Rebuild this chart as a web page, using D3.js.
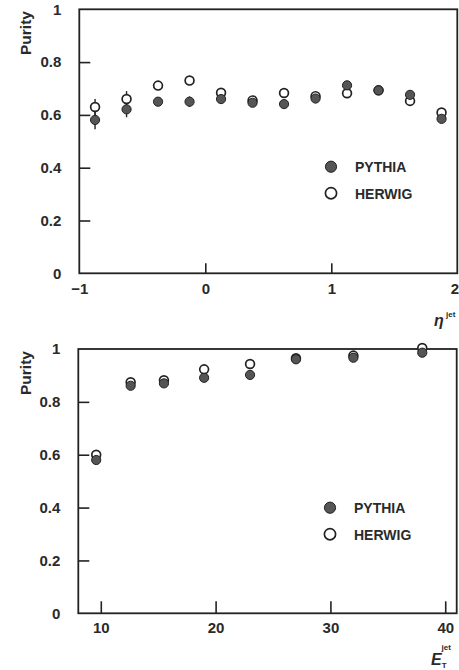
<!DOCTYPE html>
<html>
<head>
<meta charset="utf-8">
<script src="https://cdn.jsdelivr.net/npm/d3@7"></script>
<style>
  html, body { margin: 0; padding: 0; background: #fff; }
  svg { display: block; }
  text { font-family: "Liberation Sans", Arial, sans-serif; fill: #2a2a2a; }
</style>
</head>
<body>
<svg id="chart" width="459" height="670"></svg>
<script>
// Jet purity vs pseudorapidity (top) and transverse energy (bottom)
const etaBins      = [-0.875, -0.625, -0.375, -0.125, 0.125, 0.375, 0.625, 0.875, 1.125, 1.375, 1.625, 1.875];
const etaPythia    = [0.581, 0.621, 0.650, 0.650, 0.660, 0.646, 0.641, 0.662, 0.712, 0.693, 0.676, 0.585];
const etaPythiaErr = [0.035, 0.030, 0.015, 0.020, 0.012, 0.012, 0.012, 0.012, 0.012, 0.012, 0.012, 0.012];
const etaHerwig    = [0.630, 0.660, 0.711, 0.730, 0.684, 0.655, 0.683, 0.671, 0.682, 0.693, 0.653, 0.609];
const etaHerwigErr = [0.030, 0.030, 0.012, 0.012, 0.012, 0.012, 0.012, 0.012, 0.012, 0.012, 0.012, 0.012];

const etBins       = [9.6, 12.6, 15.5, 19.0, 23.0, 27.0, 32.0, 38.0];
const etPythia     = [0.580, 0.861, 0.870, 0.891, 0.902, 0.961, 0.967, 0.986];
const etPythiaErr  = [0.010, 0.010, 0.010, 0.010, 0.010, 0.008, 0.008, 0.008];
const etHerwig     = [0.600, 0.874, 0.882, 0.923, 0.943, 0.965, 0.975, 1.004];
const etHerwigErr  = [0.010, 0.010, 0.010, 0.010, 0.010, 0.008, 0.008, 0.008];

const purityTicks  = [0, 0.2, 0.4, 0.6, 0.8, 1];
const etaTicks     = [-1, 0, 1, 2];
const etTicks      = [10, 20, 30, 40];
const seriesNames  = ["PYTHIA", "HERWIG"];

const svg = d3.select("#chart");
const ink = "#222";
const fillGrey = "#555";

function panel(cfg) {
  const { left, right, top, bottom } = cfg.box;
  const x = d3.scaleLinear().domain(cfg.xDomain).range([left, right]);
  const y = d3.scaleLinear().domain([0, 1]).range([bottom, top]);
  const g = svg.append("g");

  // y axis: ticks point inward, labels outside
  const yAxis = g.append("g")
    .attr("transform", `translate(${left},0)`)
    .call(d3.axisLeft(y).tickValues(purityTicks).tickFormat(d3.format("~g"))
      .tickSizeInner(-11).tickSizeOuter(0).tickPadding(18));
  yAxis.select(".domain").remove();
  yAxis.selectAll(".tick line")
    .attr("stroke", ink).attr("stroke-width", 1.6)
    .attr("display", d => (d === 0 || d === 1) ? "none" : null);
  yAxis.selectAll(".tick text")
    .attr("font-size", 15).attr("font-weight", "bold")
    .attr("fill", "#2a2a2a").attr("font-family", "Liberation Sans, Arial, sans-serif");

  // x axis: ticks point inward
  const xAxis = g.append("g")
    .attr("transform", `translate(0,${bottom})`)
    .call(d3.axisBottom(x).tickValues(cfg.xTicks).tickFormat(d3.format("~g"))
      .tickSizeInner(-cfg.xTickLen).tickSizeOuter(0).tickPadding(cfg.xPad));
  xAxis.select(".domain").remove();
  xAxis.selectAll(".tick line")
    .attr("stroke", ink).attr("stroke-width", 1.6)
    .attr("display", d => cfg.hideEdgeTicks && (d === cfg.xDomain[0] || d === cfg.xDomain[1]) ? "none" : null);
  xAxis.selectAll(".tick text")
    .attr("font-size", 15).attr("font-weight", "bold")
    .attr("fill", "#2a2a2a").attr("font-family", "Liberation Sans, Arial, sans-serif")
    // keep the last label inside the page edge
    .attr("dx", d => (d === cfg.xDomain[1] ? -3 : 0));

  // frame
  g.append("rect")
    .attr("x", left).attr("y", top)
    .attr("width", right - left).attr("height", bottom - top)
    .attr("fill", "none").attr("stroke", ink).attr("stroke-width", 1.8);

  // y title
  g.append("text")
    .attr("transform", `translate(${31},${cfg.yTitleY}) rotate(-90)`)
    .attr("text-anchor", "middle")
    .attr("font-size", 15.5).attr("font-weight", "bold")
    .text("Purity");

  // error bars
  const errs = g.append("g").attr("stroke", ink).attr("stroke-width", 1.4);
  const addErr = (xs, ys, es) => errs.selectAll(null).data(xs).enter().append("line")
    .attr("x1", d => x(d)).attr("x2", d => x(d))
    .attr("y1", (d, i) => y(ys[i] - es[i])).attr("y2", (d, i) => y(ys[i] + es[i]));
  addErr(cfg.xs, cfg.pythia, cfg.pythiaErr);
  addErr(cfg.xs, cfg.herwig, cfg.herwigErr);

  // HERWIG: open markers
  g.append("g").selectAll("circle").data(cfg.xs).enter().append("circle")
    .attr("cx", d => x(d)).attr("cy", (d, i) => y(cfg.herwig[i]))
    .attr("r", 4.4).attr("fill", "#fff").attr("stroke", ink).attr("stroke-width", 1.7);

  // PYTHIA: filled markers
  g.append("g").selectAll("circle").data(cfg.xs).enter().append("circle")
    .attr("cx", d => x(d)).attr("cy", (d, i) => y(cfg.pythia[i]))
    .attr("r", 4.6).attr("fill", fillGrey).attr("stroke", ink).attr("stroke-width", 1);

  // legend
  const lg = g.append("g");
  seriesNames.forEach((name, i) => {
    const cy = cfg.legendY + i * 26.5;
    lg.append("circle")
      .attr("cx", cfg.legendX).attr("cy", cy).attr("r", 5.6)
      .attr("fill", i === 0 ? fillGrey : "none")
      .attr("stroke", ink).attr("stroke-width", i === 0 ? 1 : 1.7);
    lg.append("text")
      .attr("x", cfg.legendX + 24).attr("y", cy + 5.5)
      .attr("font-size", 14).attr("font-weight", "bold")
      .text(name);
  });
  return { x, y, g };
}

// upper panel: pseudorapidity
const etaPanel = panel({
  box: { left: 79.3, right: 457.3, top: 9.3, bottom: 273.3 },
  xDomain: [-1, 2], xTicks: etaTicks, xTickLen: 10, xPad: 10, hideEdgeTicks: true,
  xs: etaBins, pythia: etaPythia, pythiaErr: etaPythiaErr, herwig: etaHerwig, herwigErr: etaHerwigErr,
  legendX: 331, legendY: 166.7, yTitleY: 33
});
etaPanel.g.append("text")
  .attr("x", 434).attr("y", 326)
  .attr("font-family", "DejaVu Serif, serif").attr("font-style", "italic")
  .attr("font-size", 16).attr("font-weight", "bold")
  .text("η");
etaPanel.g.append("text")
  .attr("x", 446).attr("y", 317)
  .attr("font-size", 8).attr("font-weight", "bold")
  .text("jet");

// lower panel: transverse energy
const etPanel = panel({
  box: { left: 78.3, right: 456.7, top: 349, bottom: 613.3 },
  xDomain: [8.04, 41.0], xTicks: etTicks, xTickLen: 12, xPad: 9, hideEdgeTicks: false,
  xs: etBins, pythia: etPythia, pythiaErr: etPythiaErr, herwig: etHerwig, herwigErr: etHerwigErr,
  legendX: 330, legendY: 507.7, yTitleY: 373
});
const etLabel = etPanel.g.append("text")
  .attr("x", 431).attr("y", 665)
  .attr("font-size", 16).attr("font-weight", "bold");
etLabel.append("tspan").attr("font-style", "italic").text("E");
etLabel.append("tspan").attr("font-size", 8).attr("dy", 3).text("T");
etLabel.append("tspan").attr("font-size", 8).attr("dx", -5).attr("dy", -18).text("jet");
</script>
</body>
</html>
